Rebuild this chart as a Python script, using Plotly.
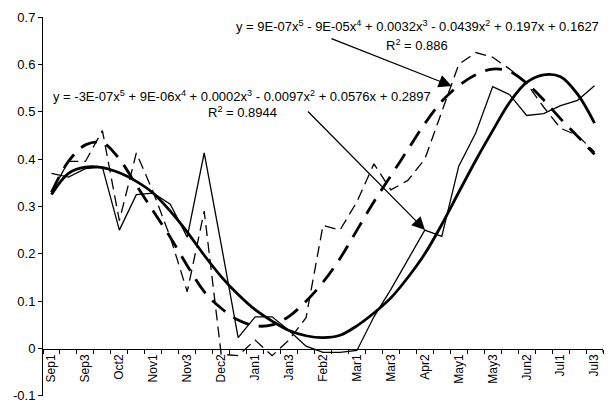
import plotly.graph_objects as go

categories = ["Sep1", "Sep2", "Sep3", "Oct1", "Oct2", "Oct3", "Nov1", "Nov2", "Nov3",
              "Dec1", "Dec2", "Dec3", "Jan1", "Jan2", "Jan3", "Feb1", "Feb2", "Feb3",
              "Mar1", "Mar2", "Mar3", "Apr1", "Apr2", "Apr3", "May1", "May2", "May3",
              "Jun1", "Jun2", "Jun3", "Jul1", "Jul2", "Jul3"]

# thin solid series
series_a = [0.37, 0.362, 0.38, 0.383, 0.25, 0.325, 0.328, 0.305, 0.235, 0.413, 0.22, 0.023,
            0.067, 0.067, 0.038, 0.005, -0.008, -0.008, -0.004, 0.067, 0.125, 0.188, 0.25,
            0.237, 0.385, 0.455, 0.553, 0.536, 0.492, 0.496, 0.513, 0.524, 0.555]
# thick solid polynomial trend of series_a
trend_a = [0.325, 0.37, 0.383, 0.382, 0.371, 0.353, 0.328, 0.29, 0.246, 0.197, 0.152, 0.114,
           0.082, 0.058, 0.038, 0.027, 0.023, 0.028, 0.048, 0.075, 0.107, 0.15, 0.2, 0.262,
           0.33, 0.397, 0.46, 0.52, 0.562, 0.578, 0.574, 0.537, 0.476]
# thin dashed series
series_b = [0.33, 0.395, 0.395, 0.46, 0.27, 0.413, 0.33, 0.235, 0.12, 0.29, -0.012, -0.015,
            0.018, -0.015, 0.018, 0.065, 0.26, 0.25, 0.31, 0.39, 0.335, 0.355, 0.40, 0.50,
            0.60, 0.625, 0.615, 0.59, 0.56, 0.51, 0.465, 0.45, 0.415]
# thick dashed polynomial trend of series_b
trend_b = [0.33, 0.395, 0.43, 0.435, 0.40, 0.345, 0.29, 0.235, 0.175, 0.12, 0.085, 0.06,
           0.048, 0.05, 0.068, 0.10, 0.14, 0.19, 0.25, 0.31, 0.365, 0.42, 0.475, 0.522,
           0.555, 0.578, 0.59, 0.585, 0.56, 0.525, 0.485, 0.448, 0.41]

x_tick_text = [c if i % 2 == 0 else "" for i, c in enumerate(categories)]
y_tick_vals = [-0.1, 0, 0.1, 0.2, 0.3, 0.4, 0.5, 0.6, 0.7]
y_tick_text = ["-0.1", "0", "0.1", "0.2", "0.3", "0.4", "0.5", "0.6", "0.7"]

eq_a = ("y = -3E-07x<sup>5</sup> + 9E-06x<sup>4</sup> + 0.0002x<sup>3</sup> - 0.0097x<sup>2</sup>"
        " + 0.0576x + 0.2897")
r2_a = "R<sup>2</sup> = 0.8944"
eq_b = ("y = 9E-07x<sup>5</sup> - 9E-05x<sup>4</sup> + 0.0032x<sup>3</sup> - 0.0439x<sup>2</sup>"
        " + 0.197x + 0.1627")
r2_b = "R<sup>2</sup> = 0.886"

FONT = "Arial, Liberation Sans, sans-serif"

fig = go.Figure()
fig.add_trace(go.Scatter(x=categories, y=series_a, mode="lines",
                         line=dict(color="black", width=1.3)))
fig.add_trace(go.Scatter(x=categories, y=series_b, mode="lines",
                         line=dict(color="black", width=1.3, dash="11px,6px")))
fig.add_trace(go.Scatter(x=categories, y=trend_b, mode="lines",
                         line=dict(color="black", width=2.8, dash="17px,10px", shape="spline")))
fig.add_trace(go.Scatter(x=categories, y=trend_a, mode="lines",
                         line=dict(color="black", width=2.8, shape="spline")))

# plot area in pixels: left 43, right 603, top 17, bottom 396
L, R, T, B = 43, 603, 17, 396
def px(xp):
    return (xp - L) / (R - L)
def py(yp):
    return (B - yp) / (B - T)

ann = []
ann.append(dict(text=eq_a, x=px(241.5), y=py(96), xref="paper", yref="paper",
                showarrow=False, xanchor="center", yanchor="middle",
                font=dict(family=FONT, size=13, color="black")))
ann.append(dict(text=r2_a, x=px(242), y=py(112), xref="paper", yref="paper",
                showarrow=False, xanchor="center", yanchor="middle",
                font=dict(family=FONT, size=13, color="black")))
ann.append(dict(text=eq_b, x=px(417.5), y=py(26), xref="paper", yref="paper",
                showarrow=False, xanchor="center", yanchor="middle",
                font=dict(family=FONT, size=13, color="black")))
ann.append(dict(text=r2_b, x=px(417), y=py(45), xref="paper", yref="paper",
                showarrow=False, xanchor="center", yanchor="middle",
                font=dict(family=FONT, size=13, color="black")))
# arrows
ann.append(dict(text="", x=px(451.7), y=py(86), xref="paper", yref="paper",
                showarrow=True, ax=330 - 451.7, ay=38 - 86, arrowhead=2, arrowsize=2,
                arrowwidth=1.3, arrowcolor="black", standoff=0))
ann.append(dict(text="", x=px(425), y=py(230), xref="paper", yref="paper",
                showarrow=True, ax=306.5 - 425, ay=110 - 230, arrowhead=2, arrowsize=2,
                arrowwidth=1.3, arrowcolor="black", standoff=0))

fig.update_layout(
    width=612, height=403,
    margin=dict(l=L, r=612 - R, t=T, b=403 - B, pad=0, autoexpand=False),
    paper_bgcolor="white", plot_bgcolor="white",
    showlegend=False,
    font=dict(family=FONT, size=12, color="black"),
    annotations=ann,
    xaxis=dict(type="category", anchor="free", position=0.1 / 0.8, automargin=False,
               range=[-0.5, 32.5], showline=True, linecolor="black", linewidth=1,
               ticks="outside", ticklen=4, tickwidth=1, tickcolor="black",
               tickson="boundaries", tickmode="array", tickvals=categories,
               ticktext=x_tick_text, tickangle=-90, showgrid=False, zeroline=False,
               tickfont=dict(family=FONT, size=12, color="black")),
    yaxis=dict(range=[-0.1002, 0.7], showline=True, linecolor="black", linewidth=1,
               automargin=False, ticklabeloverflow="allow",
               ticks="outside", ticklen=4, tickwidth=1, tickcolor="black",
               tickmode="array", tickvals=y_tick_vals, ticktext=y_tick_text,
               showgrid=False, zeroline=False,
               tickfont=dict(family=FONT, size=13, color="black")),
    shapes=[dict(type="line", xref="x", yref="y", x0=32.5, x1=32.5, y0=0,
                 y1=-4 * 0.8 / (B - T), line=dict(color="black", width=1))],
)

fig.write_html("out.html", config={"displayModeBar": False},
               post_script="document.body.style.margin='0';document.body.style.padding='0';")
